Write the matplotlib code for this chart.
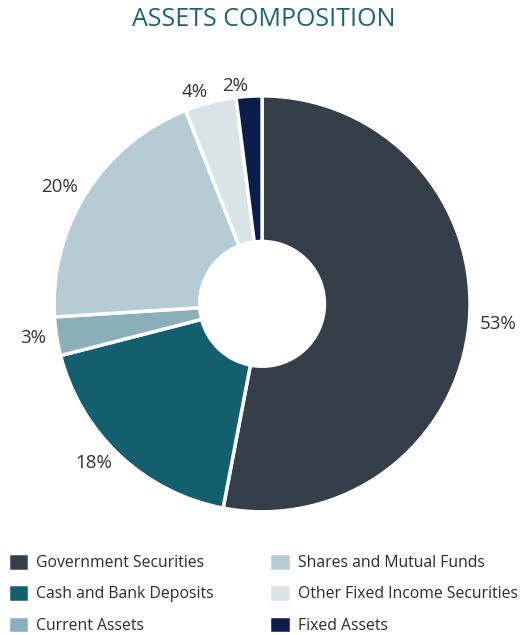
import matplotlib.pyplot as plt

plt.rcParams['font.family'] = ['Open Sans', 'DejaVu Sans']

# asset shares in percent, clockwise from 12 o'clock
categories = ['Government Securities', 'Cash and Bank Deposits', 'Current Assets',
              'Shares and Mutual Funds', 'Other Fixed Income Securities', 'Fixed Assets']
shares = [53, 18, 3, 20, 4, 2]
colors = ['#343f4a', '#145f6e', '#8aafb8', '#b6ccd4', '#d9e4e7', '#0b1d4b']

fig = plt.figure(figsize=(5.2, 6.35), dpi=100)
ax = fig.add_axes([0.104, 0.194, 0.8, 0.655])

wedges, texts = ax.pie(
    shares,
    colors=colors,
    startangle=90,
    counterclock=False,
    labels=[f'{v}%' for v in shares],
    labeldistance=1.05,
    radius=1,
    wedgeprops=dict(width=0.7, edgecolor='white', linewidth=2.5),
    textprops=dict(fontsize=13.5, color='#333333'),
)
ax.set_xlim(-1, 1)
ax.set_ylim(-1, 1)
ax.set_aspect('equal')

fig.text(0.508, 0.969, 'ASSETS COMPOSITION', ha='center', va='center',
         fontsize=18, color='#1d6470')

fig.legend(wedges, categories, ncol=2, loc='lower left',
           bbox_to_anchor=(-0.012, -0.02), frameon=False,
           fontsize=11.3, handlelength=1.35, handleheight=1.35,
           handletextpad=0.45, columnspacing=3.55, labelspacing=0.84,
           labelcolor='#2b2b2b')

fig.savefig('out.png', dpi=100)
